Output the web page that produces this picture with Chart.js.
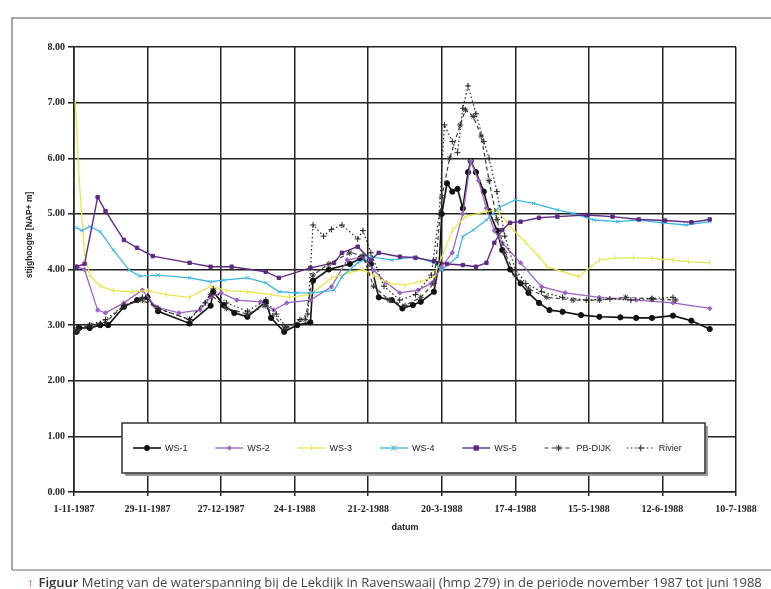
<!DOCTYPE html>
<html><head><meta charset="utf-8">
<script src="https://cdn.jsdelivr.net/npm/chart.js"></script>
<style>
html,body{margin:0;padding:0;background:#fff;}
#wrap{position:relative;width:771px;height:589px;overflow:hidden;background:#fff;}
canvas{position:absolute;left:0;top:0;}
#cap{position:absolute;left:27px;top:574px;font-family:'Open Sans',sans-serif;font-size:13px;color:#444;white-space:nowrap;line-height:17px;}
#cap .ar{color:#e0403a;font-weight:bold;margin-right:5px;}
#cap b{color:#333;font-weight:600;}
</style></head><body>
<div id="wrap"><canvas id="c" width="771" height="589"></canvas>
<div id="cap"><span class="ar">↑</span><b>Figuur</b> Meting van de waterspanning bij de Lekdijk in Ravenswaaij (hmp 279) in de periode november 1987 tot juni 1988</div></div>
<script>
// x = days since 1-11-1987
const tickDays = [0, 28, 56, 84, 112, 140, 168, 196, 224, 252];
const tickLabels = ['1-11-1987','29-11-1987','27-12-1987','24-1-1988','21-2-1988','20-3-1988','17-4-1988','15-5-1988','12-6-1988','10-7-1988'];
const yTicks = [0,1,2,3,4,5,6,7,8];
const seriesNames = ['WS-1','WS-2','WS-3','WS-4','WS-5','PB-DIJK','Rivier'];

const ws1 = [[1,2.88],[2,2.95],[6,2.95],[10,3.0],[13,3.0],[19,3.33],[24,3.45],[28,3.5],[32,3.25],[44,3.03],[52,3.35],[53,3.6],[57,3.36],[61,3.22],[66,3.15],[73,3.42],[75,3.13],[80,2.88],[85,3.0],[90,3.05],[91,3.8],[97,4.0],[105,4.1],[109,4.2],[113,4.1],[116,3.5],[121,3.45],[125,3.3],[129,3.36],[132,3.42],[137,3.6],[139,4.1],[140,5.0],[142,5.55],[144,5.4],[146,5.45],[148,5.1],[150,5.75],[151,5.95],[153,5.75],[156,5.4],[158,5.05],[161,4.7],[163,4.35],[166,4.0],[170,3.75],[173,3.58],[177,3.4],[181,3.27],[186,3.24],[193,3.18],[200,3.15],[208,3.14],[214,3.13],[220,3.13],[228,3.17],[235,3.08],[242,2.93]];
const ws2 = [[1,4.05],[4,4.0],[9,3.27],[12,3.22],[19,3.4],[26,3.63],[31,3.33],[40,3.22],[48,3.27],[52,3.51],[56,3.58],[62,3.45],[71,3.42],[76,3.27],[81,3.4],[90,3.45],[98,3.69],[104,4.17],[110,4.23],[114,3.99],[119,3.76],[124,3.58],[131,3.63],[136,3.75],[140,4.05],[144,4.3],[148,5.0],[151,5.95],[154,5.6],[157,5.1],[160,4.7],[163,4.48],[170,4.12],[178,3.69],[187,3.58],[200,3.5],[214,3.45],[228,3.4],[242,3.3]];
const ws3 = [[0.5,7.0],[2,5.6],[4,4.3],[6,3.9],[10,3.7],[15,3.62],[22,3.6],[28,3.62],[35,3.55],[44,3.5],[52,3.7],[58,3.62],[66,3.6],[75,3.55],[82,3.5],[90,3.55],[98,3.85],[105,3.95],[110,4.0],[114,3.9],[120,3.75],[126,3.72],[132,3.78],[137,3.87],[144,4.7],[149,4.95],[157,5.04],[161,5.07],[166,4.77],[172,4.48],[177,4.23],[180,4.05],[192,3.87],[200,4.17],[206,4.21],[213,4.21],[220,4.2],[228,4.17],[234,4.14],[242,4.12]];
const ws4 = [[1,4.75],[3,4.7],[6,4.77],[10,4.68],[15,4.35],[21,3.99],[25,3.88],[32,3.9],[44,3.85],[52,3.78],[57,3.81],[66,3.85],[73,3.76],[78,3.6],[85,3.58],[91,3.58],[99,3.63],[102,3.87],[108,4.12],[113,4.23],[121,4.17],[130,4.23],[137,4.12],[140,3.99],[146,4.23],[148,4.59],[152,4.71],[157,4.89],[162,5.12],[168,5.25],[175,5.19],[184,5.07],[190,5.01],[198,4.89],[207,4.86],[215,4.89],[224,4.84],[233,4.8],[242,4.86]];
const ws5 = [[1,4.05],[4,4.1],[9,5.3],[12,5.05],[19,4.53],[24,4.39],[30,4.24],[44,4.12],[52,4.05],[60,4.05],[73,3.96],[78,3.85],[90,4.03],[99,4.12],[102,4.3],[108,4.41],[113,4.17],[116,4.3],[124,4.23],[130,4.21],[137,4.15],[142,4.1],[148,4.08],[153,4.05],[157,4.12],[160,4.48],[163,4.71],[166,4.84],[170,4.86],[177,4.93],[184,4.95],[195,4.98],[205,4.95],[215,4.9],[225,4.88],[235,4.85],[242,4.9]];
const pbDijk = [[1,2.9],[6,3.0],[12,3.05],[19,3.35],[26,3.45],[32,3.3],[44,3.1],[52,3.55],[58,3.3],[66,3.2],[73,3.35],[80,2.95],[88,3.1],[91,3.9],[97,4.1],[105,4.3],[110,4.25],[114,3.7],[120,3.45],[126,3.35],[132,3.5],[137,3.75],[140,5.3],[143,6.0],[147,6.6],[149,6.87],[152,6.75],[155,6.4],[158,5.6],[161,4.9],[164,4.3],[168,3.9],[173,3.65],[180,3.5],[190,3.45],[200,3.45],[210,3.5],[220,3.47],[229,3.45]];
const rivier = [[1,2.95],[6,3.0],[12,3.1],[19,3.35],[26,3.5],[32,3.3],[44,3.1],[50,3.4],[53,3.65],[58,3.4],[66,3.25],[73,3.45],[77,3.2],[81,2.95],[86,3.1],[89,3.2],[91,4.8],[95,4.6],[98,4.72],[102,4.8],[108,4.55],[110,4.7],[113,4.3],[118,3.7],[124,3.45],[130,3.55],[136,3.9],[139,5.0],[141,6.6],[144,6.3],[146,6.1],[148,6.9],[150,7.3],[153,6.8],[156,6.3],[158,6.0],[161,5.4],[164,4.6],[168,4.0],[172,3.75],[178,3.6],[186,3.5],[195,3.45],[204,3.47],[212,3.45],[220,3.48],[228,3.5]];

const seriesData = [ws1, ws2, ws3, ws4, ws5, pbDijk, rivier];
const styles = [
  {color:'#111111', pointStyle:'circle', radius:2.6, width:1.6, dash:[]},
  {color:'#9a62c4', pointStyle:'rectRot', radius:2.2, width:1.3, dash:[]},
  {color:'#e6e650', pointStyle:'line', rotation:90, radius:2.5, width:1.3, dash:[]},
  {color:'#3cb6e8', pointStyle:'crossRot', radius:2.4, width:1.3, dash:[]},
  {color:'#5e2a84', pointStyle:'rect', radius:2.4, width:1.4, dash:[]},
  {color:'#3a3a3a', pointStyle:'star', radius:3, width:1.2, dash:[4,3]},
  {color:'#222222', pointStyle:'cross', radius:3, width:1.2, dash:[1.5,2.5]}
];

const datasets = seriesData.map((arr, i) => ({
  label: seriesNames[i],
  data: arr.map(p => ({x: p[0], y: p[1]})),
  borderColor: styles[i].color,
  backgroundColor: styles[i].color,
  borderWidth: styles[i].width,
  borderDash: styles[i].dash,
  pointStyle: styles[i].pointStyle,
  pointRotation: styles[i].rotation || 0,
  pointRadius: styles[i].radius,
  pointBorderWidth: 1,
  pointBorderColor: styles[i].color,
  pointBackgroundColor: styles[i].color,
  tension: 0,
  fill: false
})).reverse();

function drawMarker(ctx, st, x, y) {
  const r = st.radius + 0.3;
  ctx.save();
  ctx.setLineDash([]);
  ctx.strokeStyle = st.color; ctx.fillStyle = st.color; ctx.lineWidth = 1;
  ctx.beginPath();
  switch (st.pointStyle) {
    case 'circle': ctx.arc(x, y, r, 0, Math.PI*2); ctx.fill(); break;
    case 'rectRot': ctx.moveTo(x, y-r); ctx.lineTo(x+r, y); ctx.lineTo(x, y+r); ctx.lineTo(x-r, y); ctx.closePath(); ctx.fill(); break;
    case 'rect': ctx.rect(x-r, y-r, 2*r, 2*r); ctx.fill(); break;
    case 'line': ctx.moveTo(x, y-r); ctx.lineTo(x, y+r); ctx.stroke(); break;
    case 'crossRot': ctx.moveTo(x-r, y-r); ctx.lineTo(x+r, y+r); ctx.moveTo(x+r, y-r); ctx.lineTo(x-r, y+r); ctx.stroke(); break;
    case 'cross': ctx.moveTo(x-r, y); ctx.lineTo(x+r, y); ctx.moveTo(x, y-r); ctx.lineTo(x, y+r); ctx.stroke(); break;
    case 'star': ctx.moveTo(x-r, y); ctx.lineTo(x+r, y); ctx.moveTo(x, y-r); ctx.lineTo(x, y+r);
      ctx.moveTo(x-r*0.7, y-r*0.7); ctx.lineTo(x+r*0.7, y+r*0.7); ctx.moveTo(x+r*0.7, y-r*0.7); ctx.lineTo(x-r*0.7, y+r*0.7); ctx.stroke(); break;
  }
  ctx.restore();
}

const framePlugin = {
  id: 'frame',
  beforeDraw(chart) {
    const ctx = chart.ctx;
    ctx.save();
    ctx.fillStyle = '#ffffff';
    ctx.fillRect(0, 0, chart.width, chart.height);
    ctx.strokeStyle = '#8a8a8a'; ctx.lineWidth = 1.5;
    ctx.beginPath();
    ctx.moveTo(12, 570); ctx.lineTo(12, 18); ctx.lineTo(771, 18);
    ctx.stroke();
    ctx.strokeStyle = '#9a9a9a'; ctx.lineWidth = 1.5;
    ctx.beginPath(); ctx.moveTo(12, 570); ctx.lineTo(771, 570); ctx.stroke();
    ctx.restore();
  },
  afterDraw(chart) {
    const ctx = chart.ctx;
    const ca = chart.chartArea;
    ctx.save();
    ctx.fillStyle = '#222';
    ctx.font = 'bold 8.5px "Liberation Sans"';
    ctx.textAlign = 'center'; ctx.textBaseline = 'middle';
    ctx.save(); ctx.translate(30, 235); ctx.rotate(-Math.PI/2);
    ctx.fillText('stijghoogte [NAP+ m]', 0, 0); ctx.restore();
    ctx.font = 'bold 9px "Liberation Sans"';
    ctx.fillText('datum', (ca.left + ca.right)/2, 528);
    const bx = 122, by = 423, bw = 583, bh = 50;
    ctx.fillStyle = '#9a9a9a';
    ctx.fillRect(bx+3, by+3, bw, bh);
    ctx.fillStyle = '#ffffff';
    ctx.fillRect(bx, by, bw, bh);
    ctx.strokeStyle = '#333'; ctx.lineWidth = 1.5;
    ctx.strokeRect(bx, by, bw, bh);
    const cy = by + bh/2;
    const step = 82.3;
    ctx.font = '9px "Liberation Sans"';
    ctx.textAlign = 'left';
    seriesNames.forEach((name, i) => {
      const st = styles[i];
      const x0 = 133 + i*step;
      ctx.save();
      ctx.strokeStyle = st.color; ctx.lineWidth = st.width; ctx.setLineDash(st.dash);
      ctx.beginPath(); ctx.moveTo(x0, cy); ctx.lineTo(x0+28, cy); ctx.stroke();
      ctx.restore();
      drawMarker(ctx, st, x0+14, cy);
      ctx.fillStyle = '#222';
      ctx.fillText(name, x0+32, cy+0.5);
    });
    ctx.restore();
  }
};

const tickFont = {family: '"Liberation Serif"', size: 10, weight: 'bold'};

new Chart(document.getElementById('c').getContext('2d'), {
  type: 'line',
  data: {datasets},
  plugins: [framePlugin],
  options: {
    responsive: false, animation: false, devicePixelRatio: 1,
    layout: {padding: {left: 0, right: 35, top: 47, bottom: 0}},
    plugins: {legend: {display: false}, tooltip: {enabled: false}},
    scales: {
      x: {
        type: 'linear', min: 0, max: 252,
        afterBuildTicks: s => { s.ticks = tickDays.map(v => ({value: v})); },
        afterFit: s => { s.height = 97; },
        ticks: {autoSkip: false, maxRotation: 0, minRotation: 0, padding: 7, font: tickFont, color: '#222',
          callback: (v, i) => tickLabels[i]},
        grid: {color: '#222', lineWidth: 1.5, tickLength: 4},
        border: {color: '#222', width: 1.6}
      },
      y: {
        min: 0, max: 8,
        afterBuildTicks: s => { s.ticks = yTicks.map(v => ({value: v})); },
        afterFit: s => { s.width = 74; },
        ticks: {padding: 3, font: tickFont, color: '#222', callback: v => Number(v).toFixed(2)},
        grid: {color: '#222', lineWidth: 1.5, tickLength: 6},
        border: {color: '#222', width: 1.6}
      }
    }
  }
});
</script>
</body></html>
